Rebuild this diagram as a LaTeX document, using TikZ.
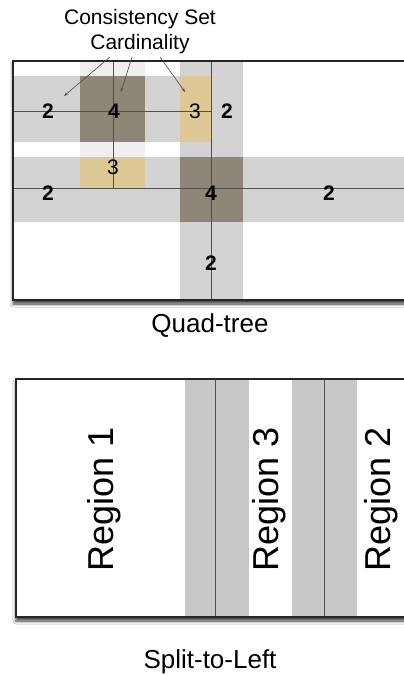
\documentclass[tikz,border=0pt]{standalone}
\usepackage{fontspec}
\setmainfont{Liberation Sans}
\usetikzlibrary{shadows.blur,arrows.meta}
\definecolor{band}{HTML}{D3D3D3}
\definecolor{bandB}{HTML}{C8C8C8}
\definecolor{faint}{HTML}{EFEFEF}
\definecolor{darksq}{HTML}{8E8777}
\definecolor{tansq}{HTML}{DDC896}
\definecolor{gridln}{HTML}{505050}
\begin{document}
\begin{tikzpicture}[x=1pt,y=-1pt,
  numb/.style={font=\fontsize{21}{24}\selectfont\bfseries, inner sep=0pt},
  numr/.style={font=\fontsize{21}{24}\selectfont, inner sep=0pt},
  captext/.style={font=\fontsize{26}{30}\selectfont, inner sep=0pt},
  reg/.style={font=\fontsize{36}{40}\selectfont, inner sep=0pt, rotate=90},
  gline/.style={draw=gridln, line width=0.8pt},
  frame/.style={draw=black!85, line width=1.3pt},
  shad/.style={blur shadow={shadow xshift=0pt, shadow yshift=-4pt, shadow blur radius=3pt, shadow opacity=75}},
  pointer/.style={draw=black!70, line width=0.6pt, -{Stealth[length=4pt,width=3pt]}}]
\clip (0,0) rectangle (404,675);
\fill[white] (0,0) rectangle (404,675);

% ---------- Quad-tree ----------
\fill[white, shad] (13,61) rectangle (430,300);
\fill[faint] (80,61) rectangle (145,157);
\fill[band] (13,76) rectangle (243,142);
\fill[band] (13,157) rectangle (404,222);
\fill[band] (180,61) rectangle (243,300);
\fill[darksq] (80,76) rectangle (145,142);
\fill[darksq] (180,157) rectangle (243,222);
\fill[tansq] (180,76) rectangle (211,142);
\fill[tansq] (80,157) rectangle (145,188);
\draw[gline] (211,61) -- (211,300);
\draw[gline] (13,188) -- (404,188);
\draw[gline] (13,111) -- (211,111);
\draw[gline] (113,61) -- (113,188);
\draw[frame] (13,61) rectangle (430,300);

\node[numb] (n1) at (48,111) {2};
\node[numb] (n2) at (114,111) {4};
\node[numr] (n3) at (195,111) {3};
\node[numb] (n4) at (227,111) {2};
\node[numr] (n5) at (113,167) {3};
\node[numb] (n6) at (48,193) {2};
\node[numb] (n7) at (211,193) {4};
\node[numb] (n8) at (329,193) {2};
\node[numb] (n9) at (211,263) {2};

\node[font=\fontsize{21}{25}\selectfont, align=center, inner sep=0pt] (lbl) at (140,32) {Consistency Set\\Cardinality};
\coordinate (s1) at (110,57);
\coordinate (s2) at (132,57);
\coordinate (s3) at (160,57);
\coordinate (t1) at (64,96);
\coordinate (t2) at (121,92);
\coordinate (t3) at (185,92);
\draw[pointer] (s1) -- (t1);
\draw[pointer] (s2) -- (t2);
\draw[pointer] (s3) -- (t3);

\node[captext] (qt) at (210,326) {Quad-tree};

% ---------- Split-to-Left ----------
\fill[white, shad] (16,379) rectangle (430,617);
\fill[bandB] (185,379) rectangle (249,617);
\fill[bandB] (292,379) rectangle (357,617);
\draw[gline] (215,379) -- (215,617);
\draw[gline] (324,379) -- (324,617);
\draw[frame] (16,379) rectangle (430,617);

\node[reg] (r1) at (104,499) {Region 1};
\node[reg] (r3) at (269,499) {Region 3};
\node[reg] (r2) at (381,499) {Region 2};

\node[captext] (sl) at (210,662) {Split-to-Left};
\end{tikzpicture}
\end{document}
